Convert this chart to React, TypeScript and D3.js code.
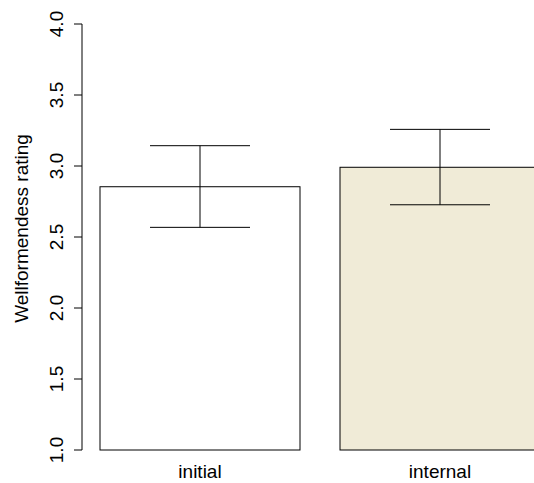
import React from "react";
import * as d3 from "d3";

const categories = ["initial", "internal"];
const means = [2.854, 2.991];
const lower = [2.568, 2.727];
const upper = [3.143, 3.258];
const fills = ["#ffffff", "#f0ebd7"];
const yTicks = [1.0, 1.5, 2.0, 2.5, 3.0, 3.5, 4.0];

const width = 534;
const height = 483;
const font = "Liberation Sans, Arial, Helvetica, sans-serif";

const App = () => {
  // R barplot style: bar i spans [0.2 + 1.2i, 1.2 + 1.2i] in user units
  const x = d3.scaleLinear().domain([0, 1]).range([60, 260]);
  const y = d3.scaleLinear().domain([1, 4]).range([450, 24]);
  const axisX = 82;

  return (
    <svg
      width={width}
      height={height}
      style={{ position: "absolute", left: 0, top: 0, background: "#fff" }}
      fontFamily={font}
    >
      {/* bars */}
      {categories.map((c, i) => {
        const x0 = x(0.2 + 1.2 * i);
        const x1 = x(1.2 + 1.2 * i);
        return (
          <rect
            key={c}
            x={x0}
            y={y(means[i])}
            width={x1 - x0}
            height={y(1) - y(means[i])}
            fill={fills[i]}
            stroke="#000"
            strokeWidth={1}
          />
        );
      })}

      {/* error bars */}
      {categories.map((c, i) => {
        const cx = x(0.7 + 1.2 * i);
        const hw = x(0.25) - x(0);
        return (
          <g key={c} stroke="#000" strokeWidth={1}>
            <line x1={cx} x2={cx} y1={y(lower[i])} y2={y(upper[i])} />
            <line x1={cx - hw} x2={cx + hw} y1={y(upper[i])} y2={y(upper[i])} />
            <line x1={cx - hw} x2={cx + hw} y1={y(lower[i])} y2={y(lower[i])} />
          </g>
        );
      })}

      {/* y axis */}
      <line x1={axisX} x2={axisX} y1={y(1)} y2={y(4)} stroke="#000" />
      {yTicks.map(t => (
        <g key={t}>
          <line x1={axisX - 8} x2={axisX} y1={y(t)} y2={y(t)} stroke="#000" />
          <text
            transform={`translate(63,${y(t)}) rotate(-90)`}
            textAnchor="middle"
            fontSize={19}
            fill="#000"
          >
            {t.toFixed(1)}
          </text>
        </g>
      ))}

      {/* y label */}
      <text
        transform={`translate(28,${y(2.56)}) rotate(-90)`}
        textAnchor="middle"
        fontSize={19}
        fill="#000"
      >
        Wellformendess rating
      </text>

      {/* category labels */}
      {categories.map((c, i) => (
        <text
          key={c}
          x={x(0.7 + 1.2 * i)}
          y={478}
          textAnchor="middle"
          fontSize={19}
          fill="#000"
        >
          {c}
        </text>
      ))}
    </svg>
  );
};

export default App;
